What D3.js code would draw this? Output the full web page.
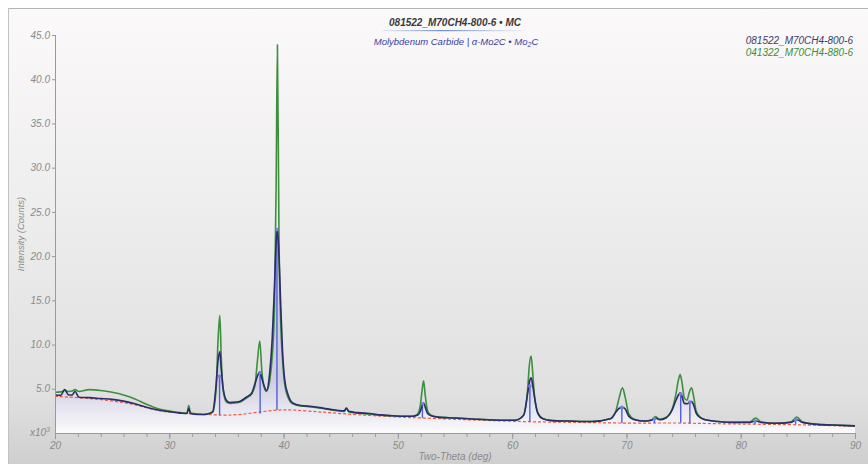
<!DOCTYPE html>
<html>
<head>
<meta charset="utf-8">
<script src="https://cdn.jsdelivr.net/npm/d3@7"></script>
<style>
  body { margin: 0; background: #fff; }
  svg { display: block; font-family: "Liberation Sans", Arial, sans-serif; }
</style>
</head>
<body>
<div id="chart"></div>
<script>
// two-theta sample positions shared by both scans
const twoTheta = [
  20, 20.5, 20.85, 21.2, 21.5, 21.75, 22.1, 23, 24, 25, 26, 27, 28, 29, 30, 31, 31.55, 31.7, 31.85, 32.5,
  33, 33.5, 33.8, 34.1, 34.25, 34.42, 34.55, 34.7, 35.0, 35.3, 35.8, 36.2, 36.8, 37.2, 37.5, 37.7, 37.92, 38.1, 38.3, 38.5,
  38.8, 39.0, 39.2, 39.35, 39.46, 39.6, 39.75, 39.9, 40.1, 40.4, 40.8, 41.5, 42.5, 43.5, 44.5, 45.3, 45.5, 45.7, 46.5, 47.5,
  48.5, 49.5, 50.5, 51.3, 51.7, 51.95, 52.1, 52.25, 52.4, 52.6, 52.9, 53.5, 55, 57, 59, 60.3, 61.0, 61.36, 61.5, 61.66,
  61.8, 61.95, 62.24, 62.7, 63.5, 65, 67, 68.6, 69.1, 69.37, 69.65, 69.9, 70.2, 70.7, 71.5, 72.2, 72.55, 72.9, 73.45, 74.0,
  74.33, 74.55, 74.7, 74.85, 75.06, 75.3, 75.5, 75.7, 75.9, 76.1, 76.5, 76.9, 78, 79.5, 80.8, 81.3, 81.8, 83, 84.4, 84.9,
  85.4, 86.5, 88, 90
]

// 081522_M70CH4-800-6 (x10^3 counts)
const counts800 = [
  4.3, 4.25, 4.9, 4.3, 4.3, 4.7, 4.05, 4.0, 3.9, 3.8, 3.6, 3.3, 2.9, 2.6, 2.4, 2.25, 2.2, 2.8, 2.2, 2.1,
  2.1, 2.2, 2.4, 5.5, 8.0, 9.2, 7.2, 5.2, 3.7, 3.45, 3.5, 3.6, 4.1, 4.5, 5.6, 6.4, 6.9, 6.2, 5.3, 4.8,
  7.0, 10.5, 16.5, 21.5, 23.0, 20.0, 14.5, 9.5, 6.0, 4.3, 3.4, 3.1, 3.0, 2.8, 2.6, 2.5, 2.8, 2.45, 2.3, 2.2,
  2.05, 1.95, 1.9, 1.9, 2.0, 2.4, 3.0, 3.4, 2.9, 2.2, 1.95, 1.8, 1.7, 1.55, 1.45, 1.45, 2.0, 4.5, 5.7, 6.25,
  5.4, 4.1, 2.25, 1.6, 1.4, 1.35, 1.3, 1.6, 2.4, 2.8, 2.9, 2.7, 1.9, 1.5, 1.35, 1.45, 1.7, 1.5, 1.7, 2.6,
  3.7, 4.3, 4.55, 4.2, 3.35, 3.3, 3.45, 3.55, 3.1, 2.25, 1.7, 1.5, 1.3, 1.2, 1.2, 1.35, 1.2, 1.1, 1.2, 1.5,
  1.2, 1.0, 0.9, 0.8
]

// 041322_M70CH4-880-6 (x10^3 counts)
const counts880 = [
  4.6, 4.65, 4.8, 4.7, 4.75, 4.9, 4.7, 4.9, 4.8, 4.6, 4.3, 3.85, 3.25, 2.75, 2.5, 2.3, 2.25, 3.1, 2.3, 2.15,
  2.1, 2.2, 2.35, 5.0, 10.0, 13.3, 8.5, 5.0, 3.5, 3.35, 3.4, 3.5, 4.0, 4.4, 5.4, 8.0, 10.4, 7.0, 5.2, 4.7,
  6.0, 8.5, 14.0, 28.0, 43.9, 22.0, 12.5, 8.5, 5.5, 4.0, 3.3, 3.05, 2.95, 2.75, 2.55, 2.45, 2.85, 2.4, 2.25, 2.15,
  2.0, 1.95, 1.9, 1.9, 2.1, 3.0, 4.6, 5.9, 4.2, 2.5, 2.0, 1.8, 1.7, 1.55, 1.45, 1.45, 2.0, 5.0, 7.6, 8.7,
  6.8, 4.3, 2.3, 1.6, 1.4, 1.35, 1.3, 1.6, 2.6, 4.0, 5.1, 4.0, 2.2, 1.55, 1.35, 1.5, 1.85, 1.55, 1.75, 2.7,
  4.4, 6.0, 6.6, 5.8, 4.0, 3.7, 4.6, 5.1, 4.0, 2.5, 1.75, 1.5, 1.3, 1.2, 1.25, 1.7, 1.25, 1.1, 1.25, 1.8,
  1.25, 1.0, 0.9, 0.8
]

// fitted background (red dashed)
const bgAngle  = [20, 22, 24, 26, 27, 28, 29, 30, 32, 34, 35, 36.5, 38.5, 40, 41, 43, 44, 46, 48, 50, 52, 55, 58, 62, 66, 70, 74, 76, 80, 85, 90]
const bgCounts = [4.15, 4.0, 3.8, 3.45, 3.2, 2.85, 2.55, 2.35, 2.15, 2.05, 2.0, 2.1, 2.5, 2.65, 2.6, 2.4, 2.3, 2.1, 1.95, 1.8, 1.7, 1.55, 1.4, 1.25, 1.2, 1.1, 1.15, 1.1, 1.0, 0.95, 0.75]

// Mo2C reference lines
const refAngle = [34.4, 37.95, 39.42, 52.15, 61.55, 69.6, 72.45, 74.75, 75.55, 81.25, 84.8]
const refTop   = [6.4, 6.8, 23.0, 3.3, 5.3, 2.9, 1.6, 4.4, 3.5, 1.35, 1.5]
const refBase  = [2.0, 2.2, 2.6, 1.7, 1.3, 1.1, 1.1, 1.15, 1.1, 1.0, 0.95]

const xTicks = [20, 30, 40, 50, 60, 70, 80, 90]
const yTicks = [5, 10, 15, 20, 25, 30, 35, 40, 45]

const props = { width: 868, height: 464 }
const margin = { left: 55, right: 12, top: 35, bottom: 31 }

const svg = d3.select('#chart').append('svg')
  .attr('width', props.width)
  .attr('height', props.height)

const defs = svg.append('defs')

const panelGrad = defs.append('linearGradient')
  .attr('id', 'panel').attr('x1', 0).attr('y1', 0).attr('x2', 0).attr('y2', 1)
panelGrad.append('stop').attr('offset', '0%').attr('stop-color', '#fbf9f9')
panelGrad.append('stop').attr('offset', '45%').attr('stop-color', '#eeeded')
panelGrad.append('stop').attr('offset', '85%').attr('stop-color', '#e0e0e0')
panelGrad.append('stop').attr('offset', '100%').attr('stop-color', '#cfcfcf')

const x = d3.scaleLinear().domain([20, 90]).range([margin.left, props.width - margin.right - 1])
const y = d3.scaleLinear().domain([0, 45]).range([props.height - margin.bottom, margin.top])

const fillGrad = defs.append('linearGradient')
  .attr('id', 'under').attr('gradientUnits', 'userSpaceOnUse')
  .attr('x1', 0).attr('x2', 0).attr('y1', y(0)).attr('y2', y(6))
fillGrad.append('stop').attr('offset', '0%').attr('stop-color', '#fbfafc')
fillGrad.append('stop').attr('offset', '100%').attr('stop-color', '#cfcce0')

const lineGrad = defs.append('linearGradient').attr('id', 'uline')
lineGrad.append('stop').attr('offset', '0%').attr('stop-color', '#8fa6d8').attr('stop-opacity', 0.2)
lineGrad.append('stop').attr('offset', '40%').attr('stop-color', '#6f8fd0')
lineGrad.append('stop').attr('offset', '100%').attr('stop-color', '#8fa6d8').attr('stop-opacity', 0)

// frame
svg.append('rect').attr('x', 8).attr('y', 8).attr('width', props.width - 8).attr('height', props.height - 8)
  .attr('fill', 'url(#panel)')
svg.append('line').attr('x1', 8).attr('x2', props.width).attr('y1', 8.5).attr('y2', 8.5)
  .attr('stroke', '#b5b5b5')
svg.append('line').attr('x1', 8.5).attr('x2', 8.5).attr('y1', 8).attr('y2', props.height)
  .attr('stroke', '#c2c2c2')

const scan800 = twoTheta.map((t, i) => [t, counts800[i]])
const scan880 = twoTheta.map((t, i) => [t, counts880[i]])
const bg = bgAngle.map((t, i) => [t, bgCounts[i]])

const line = d3.line()
  .x(d => x(d[0]))
  .y(d => y(d[1]))
  .curve(d3.curveMonotoneX)

const area = d3.area()
  .x(d => x(d[0]))
  .y0(y(0))
  .y1(d => y(d[1]))
  .curve(d3.curveMonotoneX)

const plot = svg.append('g').attr('class', 'plot')

plot.append('path').datum(scan800)
  .attr('d', area)
  .attr('fill', 'url(#under)')

plot.append('path').datum(bg)
  .attr('d', line.curve(d3.curveBasis))
  .attr('fill', 'none')
  .attr('stroke', '#ee5a3a')
  .attr('stroke-width', 1.2)
  .attr('stroke-dasharray', '3,2')
line.curve(d3.curveMonotoneX)

// reference sticks
plot.selectAll('.stick').data(refAngle).enter().append('line')
  .attr('class', 'stick')
  .attr('x1', d => x(d)).attr('x2', d => x(d))
  .attr('y1', (d, i) => y(refBase[i]))
  .attr('y2', (d, i) => y(refTop[i]))
  .attr('stroke', '#4f5fd6')
  .attr('stroke-width', 1.4)

plot.append('path').datum(scan880)
  .attr('d', line)
  .attr('fill', 'none')
  .attr('stroke', '#3d8f3d')
  .attr('stroke-width', 1.6)
  .attr('stroke-linejoin', 'round')

plot.append('path').datum(scan800)
  .attr('d', line)
  .attr('fill', 'none')
  .attr('stroke', '#2a2c6c')
  .attr('stroke-width', 1.6)
  .attr('stroke-linejoin', 'round')

plot.selectAll('.dot').data(refAngle).enter().append('circle')
  .attr('class', 'dot')
  .attr('cx', d => x(d))
  .attr('cy', (d, i) => y(refTop[i]))
  .attr('r', 1.8)
  .attr('fill', '#6f7fe8')

// axes
const xAxis = svg.append('g')
  .attr('transform', 'translate(0,' + y(0) + ')')
  .call(d3.axisBottom(x).tickValues(d3.range(20, 91, 2)).tickSize(4).tickFormat(''))
xAxis.select('.domain').attr('stroke', '#9a9a9a')
xAxis.selectAll('.tick line').attr('stroke', '#9a9a9a')

const xLabels = svg.append('g')
  .attr('transform', 'translate(0,' + y(0) + ')')
  .call(d3.axisBottom(x).tickValues(xTicks).tickSize(6).tickPadding(3))
xLabels.select('.domain').remove()
xLabels.selectAll('.tick line').attr('stroke', '#9a9a9a')
xLabels.selectAll('.tick text')
  .attr('fill', '#8a8a8a').attr('font-size', 10).attr('font-style', 'italic')
  .attr('font-family', '"Liberation Sans", Arial, sans-serif')

const yAxis = svg.append('g')
  .attr('transform', 'translate(' + x(20) + ',0)')
  .call(d3.axisLeft(y).tickValues(yTicks).tickSize(3).tickPadding(2).tickFormat(d3.format('.1f')))
yAxis.select('.domain').attr('stroke', '#9a9a9a').attr('d', 'M0.5,' + y(45) + 'V' + y(0))
yAxis.selectAll('.tick line').attr('stroke', '#9a9a9a')
yAxis.selectAll('.tick text')
  .attr('fill', '#8a8a8a').attr('font-size', 10).attr('font-style', 'italic')
  .attr('font-family', '"Liberation Sans", Arial, sans-serif')

// labels
const xm = svg.append('text')
  .attr('x', 50).attr('y', y(0) + 3)
  .attr('text-anchor', 'end')
  .attr('fill', '#8a8a8a').attr('font-size', 10).attr('font-style', 'italic')
xm.append('tspan').text('x10')
xm.append('tspan').text('3').attr('font-size', 7).attr('dy', -4)

svg.append('text')
  .attr('transform', 'translate(24,234) rotate(-90)')
  .attr('text-anchor', 'middle')
  .attr('fill', '#8a8a8a').attr('font-size', 9.5).attr('font-style', 'italic')
  .text('Intensity (Counts)')

svg.append('text')
  .attr('x', 455).attr('y', 460)
  .attr('text-anchor', 'middle')
  .attr('fill', '#8a8a8a').attr('font-size', 10).attr('font-style', 'italic')
  .text('Two-Theta (deg)')

// title block
svg.append('text')
  .attr('x', 455).attr('y', 26)
  .attr('text-anchor', 'middle')
  .attr('fill', '#3a3a3a').attr('font-size', 10).attr('font-weight', 'bold').attr('font-style', 'italic')
  .text('081522_M70CH4-800-6 \u2022 MC')
svg.append('rect').attr('x', 382).attr('y', 30).attr('width', 150).attr('height', 1.2)
  .attr('fill', 'url(#uline)')

const sub = svg.append('text')
  .attr('x', 456).attr('y', 45)
  .attr('text-anchor', 'middle')
  .attr('fill', '#3b3ca6').attr('font-size', 9.5).attr('font-style', 'italic')
sub.append('tspan').text('Molybdenum Carbide | \u03b1-Mo2C \u2022 Mo')
sub.append('tspan').text('2').attr('font-size', 7).attr('dy', 2)
sub.append('tspan').text('C').attr('dy', -2)

// legend
const legendNames = ['081522_M70CH4-800-6', '041322_M70CH4-880-6']
const legendColors = ['#3a3b6e', '#3d8f3d']
svg.selectAll('.legend').data(legendNames).enter().append('text')
  .attr('class', 'legend')
  .attr('x', 853)
  .attr('y', (d, i) => 44 + i * 12)
  .attr('text-anchor', 'end')
  .attr('fill', (d, i) => legendColors[i])
  .attr('font-size', 10).attr('font-style', 'italic')
  .text(d => d)
</script>
</body>
</html>
